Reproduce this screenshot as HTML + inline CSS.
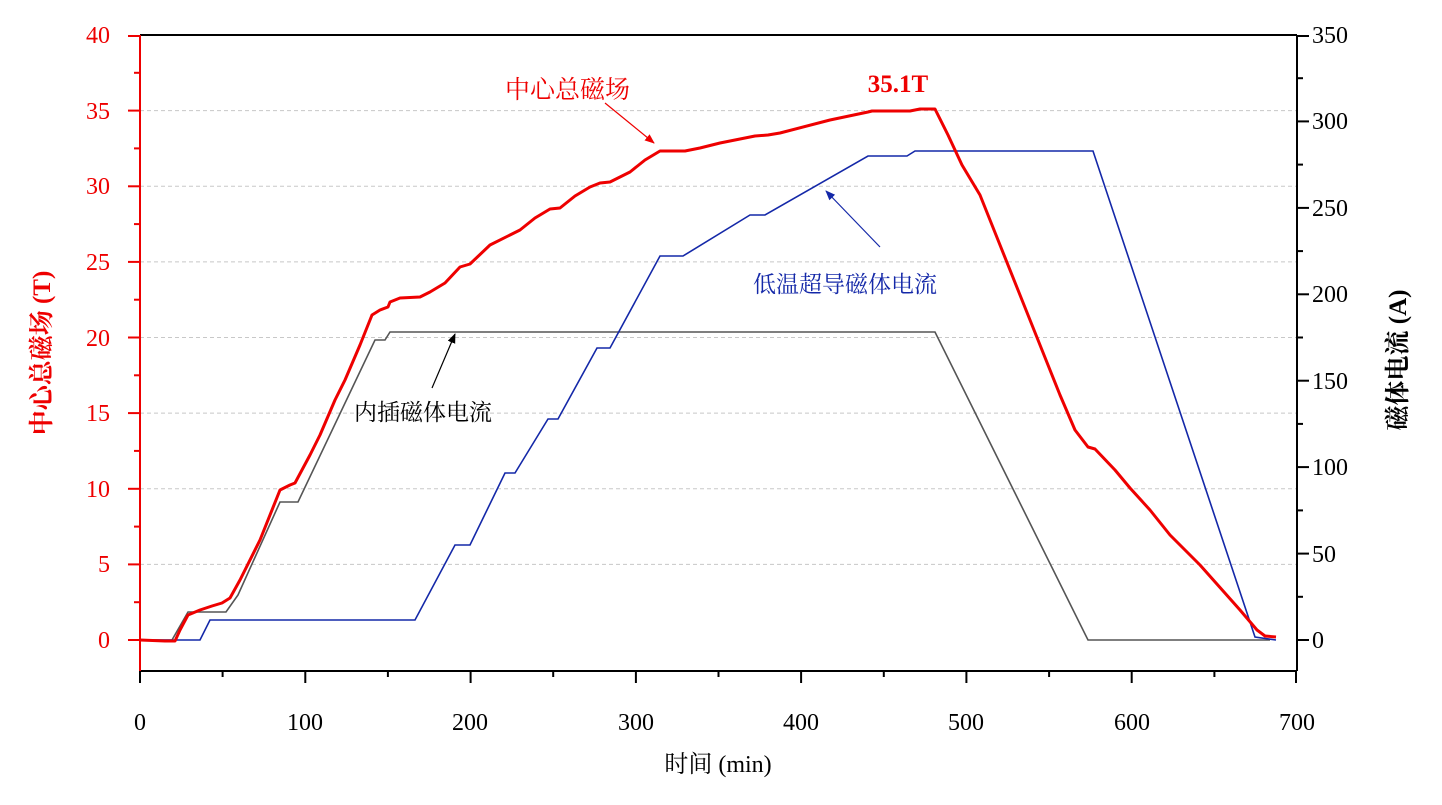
<!DOCTYPE html>
<html><head><meta charset="utf-8"><style>
html,body{margin:0;padding:0;background:#fff;}
svg text{font-family:"Liberation Serif","Noto Serif CJK SC",serif;}
</style></head><body>
<svg width="1442" height="800" viewBox="0 0 1442 800" xmlns="http://www.w3.org/2000/svg">
<defs>
<marker id="ar" markerWidth="10" markerHeight="10" refX="9" refY="5" orient="auto" markerUnits="userSpaceOnUse"><path d="M0,1 L10,5 L0,9 Z" fill="#e00"/></marker>
<marker id="ab" markerWidth="10" markerHeight="10" refX="9" refY="5" orient="auto" markerUnits="userSpaceOnUse"><path d="M0,1 L10,5 L0,9 Z" fill="#1428a8"/></marker>
<marker id="ak" markerWidth="10" markerHeight="10" refX="9" refY="5" orient="auto" markerUnits="userSpaceOnUse"><path d="M0,1 L10,5 L0,9 Z" fill="#000"/></marker>
</defs>
<g stroke="#c8c8c8" stroke-width="1" stroke-dasharray="4,3">
<line x1="140" x2="1297" y1="564.4" y2="564.4"/><line x1="140" x2="1297" y1="488.8" y2="488.8"/>
<line x1="140" x2="1297" y1="413.1" y2="413.1"/><line x1="140" x2="1297" y1="337.5" y2="337.5"/>
<line x1="140" x2="1297" y1="261.9" y2="261.9"/><line x1="140" x2="1297" y1="186.3" y2="186.3"/>
<line x1="140" x2="1297" y1="110.6" y2="110.6"/>
</g>
<line x1="140" y1="35" x2="1297" y2="35" stroke="#000" stroke-width="2"/>
<line x1="140" y1="671" x2="1297" y2="671" stroke="#000" stroke-width="2"/>
<line x1="1297" y1="35" x2="1297" y2="671" stroke="#000" stroke-width="2"/>
<line x1="140" y1="35" x2="140" y2="671" stroke="#e00" stroke-width="2"/>
<g stroke="#e00" stroke-width="2">
<line x1="140" x2="128" y1="640" y2="640"/><line x1="140" x2="134" y1="602.2" y2="602.2"/>
<line x1="140" x2="128" y1="564.4" y2="564.4"/><line x1="140" x2="134" y1="526.6" y2="526.6"/>
<line x1="140" x2="128" y1="488.8" y2="488.8"/><line x1="140" x2="134" y1="450.9" y2="450.9"/>
<line x1="140" x2="128" y1="413.1" y2="413.1"/><line x1="140" x2="134" y1="375.3" y2="375.3"/>
<line x1="140" x2="128" y1="337.5" y2="337.5"/><line x1="140" x2="134" y1="299.7" y2="299.7"/>
<line x1="140" x2="128" y1="261.9" y2="261.9"/><line x1="140" x2="134" y1="224.1" y2="224.1"/>
<line x1="140" x2="128" y1="186.3" y2="186.3"/><line x1="140" x2="134" y1="148.4" y2="148.4"/>
<line x1="140" x2="128" y1="110.6" y2="110.6"/><line x1="140" x2="134" y1="72.8" y2="72.8"/>
<line x1="140" x2="128" y1="36" y2="36"/>
</g>
<g stroke="#000" stroke-width="2">
<line x1="1297" x2="1309" y1="640" y2="640"/><line x1="1297" x2="1303" y1="596.8" y2="596.8"/>
<line x1="1297" x2="1309" y1="553.6" y2="553.6"/><line x1="1297" x2="1303" y1="510.4" y2="510.4"/>
<line x1="1297" x2="1309" y1="467.1" y2="467.1"/><line x1="1297" x2="1303" y1="423.9" y2="423.9"/>
<line x1="1297" x2="1309" y1="380.7" y2="380.7"/><line x1="1297" x2="1303" y1="337.5" y2="337.5"/>
<line x1="1297" x2="1309" y1="294.3" y2="294.3"/><line x1="1297" x2="1303" y1="251.1" y2="251.1"/>
<line x1="1297" x2="1309" y1="207.9" y2="207.9"/><line x1="1297" x2="1303" y1="164.6" y2="164.6"/>
<line x1="1297" x2="1309" y1="121.4" y2="121.4"/><line x1="1297" x2="1303" y1="78.2" y2="78.2"/>
<line x1="1297" x2="1309" y1="36" y2="36"/>
<line y1="671" y2="683" x1="140" x2="140"/><line y1="671" y2="677" x1="222.6" x2="222.6"/>
<line y1="671" y2="683" x1="305.3" x2="305.3"/><line y1="671" y2="677" x1="387.9" x2="387.9"/>
<line y1="671" y2="683" x1="470.6" x2="470.6"/><line y1="671" y2="677" x1="553.2" x2="553.2"/>
<line y1="671" y2="683" x1="635.9" x2="635.9"/><line y1="671" y2="677" x1="718.5" x2="718.5"/>
<line y1="671" y2="683" x1="801.1" x2="801.1"/><line y1="671" y2="677" x1="883.8" x2="883.8"/>
<line y1="671" y2="683" x1="966.4" x2="966.4"/><line y1="671" y2="677" x1="1049.1" x2="1049.1"/>
<line y1="671" y2="683" x1="1131.7" x2="1131.7"/><line y1="671" y2="677" x1="1214.4" x2="1214.4"/>
<line y1="671" y2="683" x1="1296" x2="1296"/>
</g>
<g fill="#e00" font-size="24" text-anchor="end">
<text x="110" y="648">0</text><text x="110" y="572">5</text><text x="110" y="497">10</text><text x="110" y="421">15</text><text x="110" y="346">20</text><text x="110" y="270">25</text><text x="110" y="194">30</text><text x="110" y="119">35</text><text x="110" y="43">40</text>
</g>
<g fill="#000" font-size="24" text-anchor="start">
<text x="1312" y="648">0</text><text x="1312" y="562">50</text><text x="1312" y="475">100</text><text x="1312" y="389">150</text><text x="1312" y="302">200</text><text x="1312" y="216">250</text><text x="1312" y="129">300</text><text x="1312" y="43">350</text>
</g>
<g fill="#000" font-size="24" text-anchor="middle">
<text x="140" y="730">0</text><text x="305" y="730">100</text><text x="470" y="730">200</text><text x="636" y="730">300</text><text x="801" y="730">400</text><text x="966" y="730">500</text><text x="1132" y="730">600</text><text x="1297" y="730">700</text>
</g>
<polyline fill="none" stroke="#555" stroke-width="1.6" points="140,640 172,640 188,612 226,612 238,595 280,502 298,502 375,340 385,340 390,332 935,332 1088,640 1270,640"/>
<polyline fill="none" stroke="#1428a8" stroke-width="1.6" points="140,640 200,640 210,620 415,620 455,545 470,545 505,473 515,473 548,419 558,419 597,348 610,348 660,256 683,256 750,215 765,215 868,156 907,156 915,151 1093,151 1255,637 1276,640"/>
<polyline fill="none" stroke="#e00" stroke-width="3" stroke-linejoin="round" points="140,640 165,641 175,641 180,630 188,615 200,610 212,606 222,603 230,598 240,580 260,540 280,490 290,485 295,483 310,455 320,435 335,400 345,380 360,345 372,315 380,310 388,307 390,302 400,298 420,297 430,292 445,283 460,267 470,264 490,245 510,235 520,230 535,218 550,209 560,208 575,196 590,187 600,183 610,182 630,172 645,160 660,151 685,151 700,148 720,143 755,136 768,135 780,133 830,120 868,112 872,111 910,111 920,109 935,109 948,135 962,165 980,195 1000,245 1020,295 1040,345 1060,395 1075,430 1088,447 1095,449 1115,470 1130,488 1150,510 1170,535 1200,565 1240,610 1257,630 1265,636 1276,637"/>
<line x1="605" y1="103" x2="654" y2="143" stroke="#e00" stroke-width="1.2" marker-end="url(#ar)"/>
<line x1="880" y1="247" x2="826" y2="191" stroke="#1428a8" stroke-width="1.2" marker-end="url(#ab)"/>
<line x1="432" y1="388" x2="455" y2="334" stroke="#000" stroke-width="1.2" marker-end="url(#ak)"/>
<text x="505" y="98" font-size="25" fill="#e00">中心总磁场</text>
<text x="898" y="92" font-size="25" fill="#e00" font-weight="bold" text-anchor="middle">35.1T</text>
<text x="753" y="292" font-size="23" fill="#1428a8">低温超导磁体电流</text>
<text x="354" y="420" font-size="23" fill="#000">内插磁体电流</text>
<text x="718" y="772" font-size="24" fill="#000" text-anchor="middle">时间 (min)</text>
<text transform="translate(50,353) rotate(-90)" font-size="25" fill="#e00" text-anchor="middle" font-weight="bold">中心总磁场 (T)</text>
<text transform="translate(1406,360) rotate(-90)" font-size="25" fill="#000" text-anchor="middle" font-weight="bold">磁体电流 (A)</text>
</svg>
</body></html>
